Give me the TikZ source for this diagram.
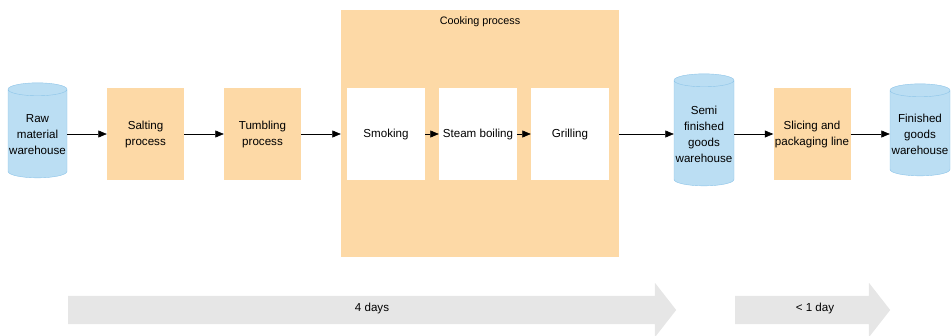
\documentclass[tikz,border=0pt]{standalone}
\usepackage{fontspec}
\setmainfont{Liberation Sans}
\usepackage{xcolor}
\usepackage{tikz}
\usetikzlibrary{arrows.meta,positioning,shapes.geometric,shapes.arrows}
\definecolor{peach}{RGB}{253,217,166}
\definecolor{lightcyl}{RGB}{187,222,243}
\definecolor{cylline}{RGB}{140,196,232}
\definecolor{bargray}{RGB}{230,230,230}
\tikzset{
  procbox/.style={fill=peach, minimum width=77pt, minimum height=92pt,
    align=center, inner sep=1pt},
  stepbox/.style={fill=white, minimum width=78pt, minimum height=92pt,
    align=center, inner sep=1pt},
  storebox/.style={cylinder, shape border rotate=90, aspect=0.22,
    draw=cylline, fill=lightcyl, align=center, inner sep=1pt},
  timebar/.style={single arrow, fill=bargray, inner xsep=0pt, inner ysep=14pt,
    single arrow head extend=13pt, single arrow tip angle=104, anchor=tail},
  flow/.style={-{Triangle[length=8.5pt,width=7pt]}, semithick}
}

\begin{document}
\begin{tikzpicture}[x=1pt, y=-1pt, font=\fontsize{11.6}{16}\selectfont]
\useasboundingbox (0,0) rectangle (951,335);
\node[storebox, minimum width=59pt, minimum height=95pt] (raw) at (37.5,134.5) {Raw\\material\\warehouse};
\node[procbox] (salt) at (145.5,134) {Salting\\process};
\node[procbox] (tumble) at (262.5,134) {Tumbling\\process};

% cooking container with its three steps
\node[fill=peach, minimum width=278pt, minimum height=247pt] (cook) at (480,133.5) {};
\node[below=3pt of cook.north, font=\fontsize{10.8}{12}\selectfont] (cooklabel) {Cooking process};
\node[stepbox] (smoke) at (386,134) {Smoking};
\node[stepbox] (steam) at (478,134) {Steam boiling};
\node[stepbox] (grill) at (570,134) {Grilling};

\node[storebox, minimum width=60pt, minimum height=112pt] (semi) at (704,134) {Semi\\finished\\goods\\warehouse};
\node[procbox] (slice) at (812,134) {Slicing and\\packaging line};
\node[storebox, minimum width=60pt, minimum height=92pt] (fin) at (920,134) {Finished\\goods\\warehouse};

\draw[flow] (raw.east|-salt) -- (salt);
\draw[flow] (salt) -- (tumble);
\draw[flow] (tumble) -- (cook.west|-tumble);
\draw[flow] (smoke) -- (steam);
\draw[flow] (steam) -- (grill);
\draw[flow] (cook.east|-grill) -- (semi.west|-grill);
\draw[flow] (semi.east|-slice) -- (slice);
\draw[flow] (slice) -- (fin.west|-slice);

% time bars
\node[timebar, minimum height=608pt] (fourdays) at (68,310) {};
\node (fourdaystext) at (372,308) {4 days};
\node[timebar, minimum height=155pt] (oneday) at (735,310) {};
\node (onedaytext) at (815,308) {< 1 day};
\end{tikzpicture}
\end{document}
